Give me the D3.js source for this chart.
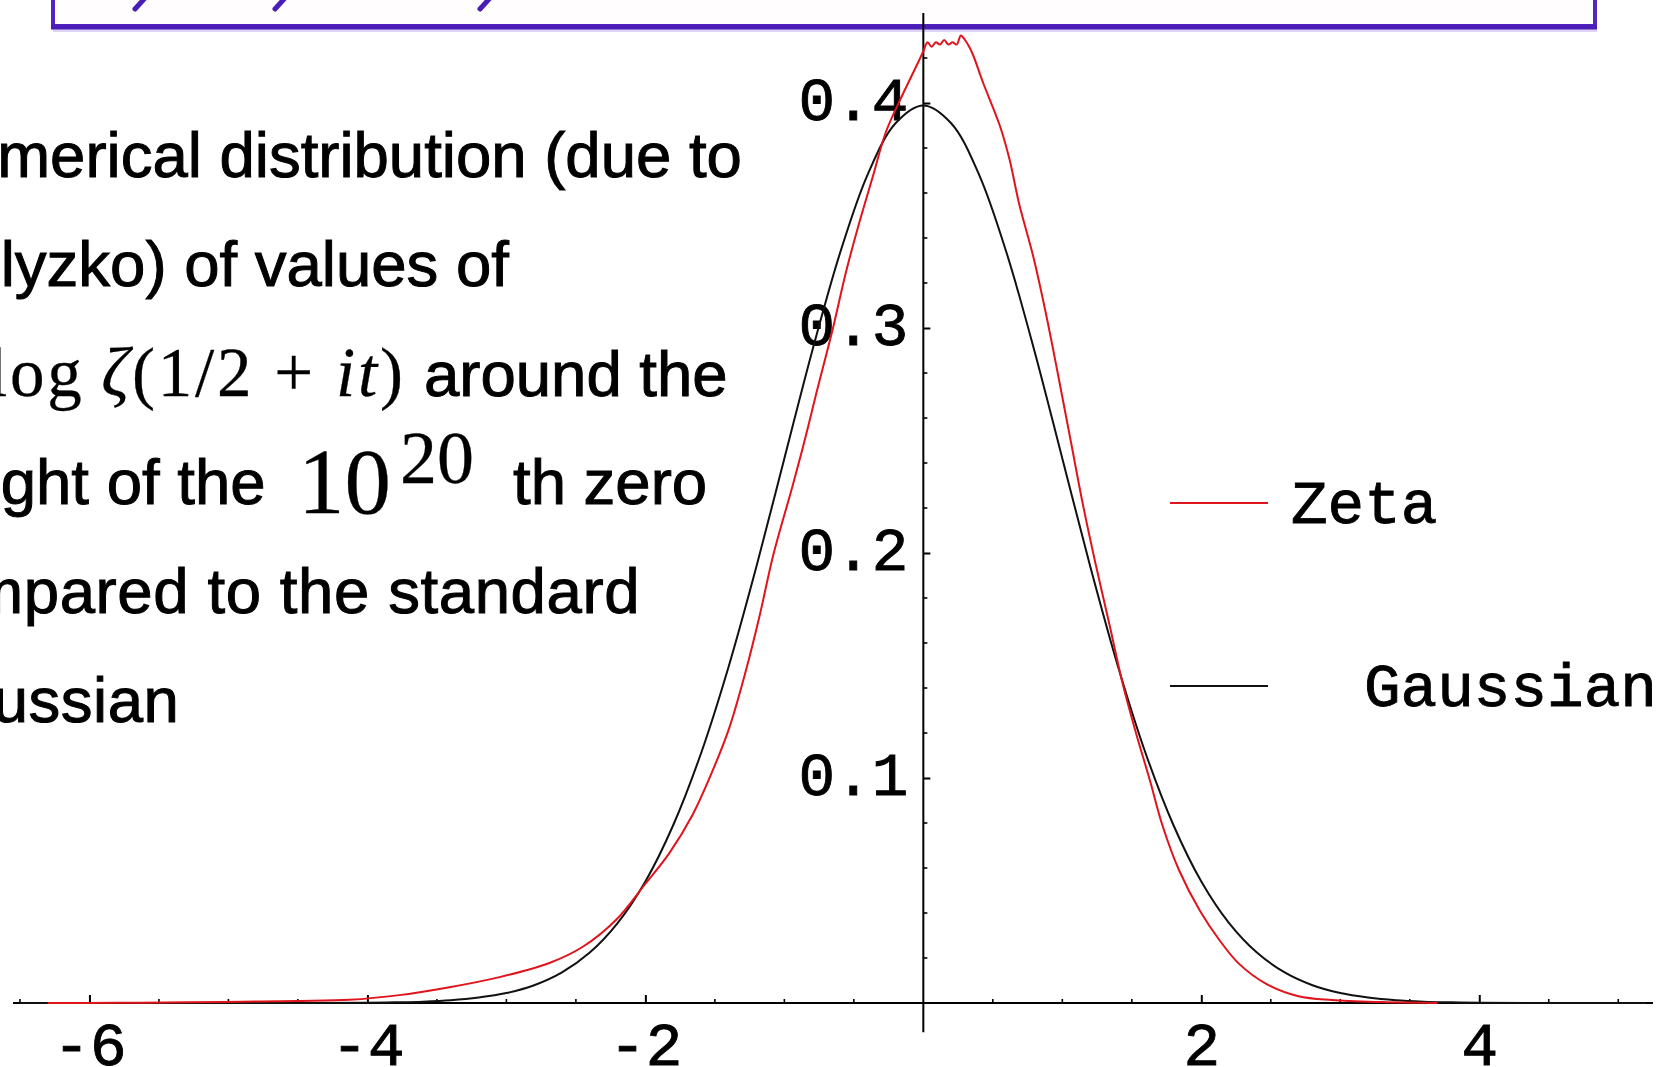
<!DOCTYPE html>
<html>
<head>
<meta charset="utf-8">
<script src="https://cdn.jsdelivr.net/npm/d3@7"></script>
<style>
  html, body { margin: 0; padding: 0; background: #ffffff; overflow: hidden; }
  svg { display: block; }
</style>
</head>
<body>
<svg id="chart" width="1664" height="1067"></svg>
<script>
// Empirical density of normalised log|zeta(1/2+it)| near the 10^20-th zero (Odlyzko)
const zetaX = [-6.30, -5.80, -5.30, -4.90, -4.50, -4.13, -3.77, -3.41, -3.05, -2.69,
  -2.45, -2.21, -2.00, -1.83, -1.66, -1.52, -1.40, -1.28, -1.18, -1.08,
  -0.94, -0.85, -0.77, -0.65, -0.556, -0.46, -0.365, -0.27, -0.17, -0.077,
  -0.03, 0.00, 0.03, 0.06, 0.09, 0.12, 0.15, 0.18, 0.21, 0.24,
  0.27, 0.30, 0.33, 0.36, 0.43, 0.55, 0.62, 0.69, 0.79, 0.88,
  0.97, 1.06, 1.15, 1.24, 1.34, 1.43, 1.53, 1.63, 1.72, 1.84,
  1.99, 2.13, 2.27, 2.47, 2.70, 2.94, 3.30, 3.70];
const zetaY = [0.0000, 0.0001, 0.0003, 0.0006, 0.0009, 0.0014, 0.0035, 0.0070, 0.0115, 0.0178,
  0.0250, 0.0370, 0.0530, 0.0664, 0.0837, 0.1027, 0.1216, 0.1470, 0.1716, 0.1990,
  0.2300, 0.2510, 0.2710, 0.3000, 0.3250, 0.3470, 0.3670, 0.3870, 0.4010, 0.4130,
  0.4190, 0.4230, 0.4270, 0.4250, 0.4270, 0.4260, 0.4280, 0.4260, 0.4270, 0.4260,
  0.4300, 0.4280, 0.4250, 0.4210, 0.4090, 0.3900, 0.3750, 0.3550, 0.3320, 0.3070,
  0.2790, 0.2500, 0.2210, 0.1950, 0.1680, 0.1430, 0.1200, 0.0990, 0.0790, 0.0590,
  0.0410, 0.0280, 0.0175, 0.0084, 0.0030, 0.0013, 0.0004, 0.0000];

// Standard Gaussian density, as plotted
const gaussX = [-6.5, -4.5, -4.0, -3.8, -3.6, -3.4, -3.2, -3.0, -2.8, -2.6, -2.4, -2.2,
  -2.0, -1.8, -1.6, -1.4, -1.2, -1.0, -0.8, -0.6, -0.4, -0.2, 0.0,
  0.2, 0.4, 0.6, 0.8, 1.0, 1.2, 1.4, 1.6, 1.8, 2.0, 2.2, 2.4, 2.6, 2.8,
  3.0, 3.2, 3.4, 3.6, 3.8, 4.0, 4.5, 5.2];
const gaussY = [0.0000, 0.0000, 0.0001, 0.0003, 0.0006, 0.0012, 0.0024, 0.0044, 0.0079, 0.0136, 0.0224, 0.0355,
  0.0540, 0.0790, 0.1109, 0.1497, 0.1942, 0.2420, 0.2897, 0.3332, 0.3683, 0.3910, 0.3989,
  0.3910, 0.3683, 0.3332, 0.2897, 0.2420, 0.1942, 0.1497, 0.1109, 0.0790, 0.0540, 0.0355, 0.0224, 0.0136, 0.0079,
  0.0044, 0.0024, 0.0012, 0.0006, 0.0003, 0.0001, 0.0000, 0.0000];

const xTickLabels = [-6, -4, -2, 2, 4];
const yTickLabels = [0.1, 0.2, 0.3, 0.4];
const seriesNames = ["Zeta", "Gaussian"];
const seriesColors = ["#e0141c", "#111111"];

const svg = d3.select("#chart");

const x = d3.scaleLinear().domain([-6.55, 5.25]).range([13, 1653]);
const y = d3.scaleLinear().domain([0, 0.4]).range([1003, 103]);

// ---- slide header frame (title text runs above the page edge) ----
const hdr = svg.append("g");
hdr.append("line").attr("x1", 53).attr("x2", 1597).attr("y1", 30).attr("y2", 30)
  .attr("stroke", "#c9b8f0").attr("stroke-width", 4).attr("opacity", 0.6);
hdr.append("rect").attr("x", 53).attr("y", -20).attr("width", 1542).attr("height", 46)
  .attr("fill", "#fffdfe").attr("stroke", "#5424c4").attr("stroke-width", 4);
hdr.append("line").attr("x1", 51).attr("x2", 1597).attr("y1", 27).attr("y2", 27)
  .attr("stroke", "#4a1cb8").attr("stroke-width", 5);
const desc = [[145, 135], [285, 275], [490, 480]];
desc.forEach(d => {
  hdr.append("line").attr("x1", d[0]).attr("y1", -2).attr("x2", d[1]).attr("y2", 9)
    .attr("stroke", "#4a1cb8").attr("stroke-width", 5).attr("stroke-linecap", "round");
});

// ---- description text on the left ----
const sans = "'Liberation Sans', Arial, sans-serif";
const serif = "'Liberation Serif', 'Times New Roman', serif";
const txt = svg.append("g").attr("fill", "#000").attr("font-family", sans).attr("font-size", 63.5)
  .attr("stroke", "#000").attr("stroke-width", 1.0);
txt.append("text").attr("x", -84).attr("y", 177).text("Numerical distribution (due to");
txt.append("text").attr("x", -84).attr("y", 286).text("Odlyzko) of values of");
const m1 = txt.append("text").attr("x", -12).attr("y", 396)
  .attr("font-family", serif).attr("font-size", 69).attr("stroke-width", 0.3)
  .attr("textLength", 415).attr("lengthAdjust", "spacing");
m1.append("tspan").text("log\u2009");
m1.append("tspan").attr("font-style", "italic").text("\u03B6");
m1.append("tspan").text("(1/2 + ");
m1.append("tspan").attr("font-style", "italic").text("it");
m1.append("tspan").text(")");
txt.append("text").attr("x", 424).attr("y", 396).text("around the");
txt.append("text").attr("x", -84).attr("y", 504).text("height of the");
txt.append("text").attr("x", 298).attr("y", 513).attr("font-family", serif)
  .attr("font-size", 93).attr("stroke-width", 0.3).text("10");
txt.append("text").attr("x", 400).attr("y", 483).attr("font-family", serif)
  .attr("font-size", 74).attr("stroke-width", 0.3).text("20");
txt.append("text").attr("x", 513).attr("y", 504).text("th zero");
txt.append("text").attr("x", -98).attr("y", 613).attr("letter-spacing", 0.6)
  .text("compared to the standard");
txt.append("text").attr("x", -93).attr("y", 722).attr("letter-spacing", 0.5).text("Gaussian");

// ---- axes ----
const mono = "'Liberation Mono', 'Courier New', monospace";
const axes = svg.append("g");

// minor ticks
const xMinor = d3.range(-6.5, 5.01, 0.5).filter(v => Math.abs(v) > 1e-9 && xTickLabels.indexOf(v) < 0);
axes.selectAll("line.xminor").data(xMinor).join("line").attr("class", "xminor")
  .attr("x1", d => x(d)).attr("x2", d => x(d)).attr("y1", y(0)).attr("y2", y(0) - 4)
  .attr("stroke", "#000").attr("stroke-width", 1.6);
const yMinor = d3.range(0.02, 0.431, 0.02).filter(v => Math.abs(v * 10 - Math.round(v * 10)) > 1e-6);
axes.selectAll("line.yminor").data(yMinor).join("line").attr("class", "yminor")
  .attr("x1", x(0)).attr("x2", x(0) + 4).attr("y1", d => y(d)).attr("y2", d => y(d))
  .attr("stroke", "#000").attr("stroke-width", 1.6);

const xAxis = d3.axisBottom(x).tickValues(xTickLabels).tickSize(-8).tickPadding(19)
  .tickFormat(d => (d < 0 ? "-" : "") + Math.abs(d));
const gx = axes.append("g").attr("transform", `translate(0,${y(0)})`).call(xAxis);
gx.select(".domain").remove();
gx.selectAll(".tick line").attr("stroke", "#000").attr("stroke-width", 2);
gx.selectAll(".tick text").attr("font-family", mono).attr("font-size", 61)
  .attr("fill", "#000").attr("stroke", "#000").attr("stroke-width", 0.9);

const yAxis = d3.axisLeft(y).tickValues(yTickLabels).tickSize(-7).tickPadding(15)
  .tickFormat(d3.format(".1f"));
const gy = axes.append("g").attr("transform", `translate(${x(0)},0)`).call(yAxis);
gy.select(".domain").remove();
gy.selectAll(".tick line").attr("stroke", "#000").attr("stroke-width", 2);
gy.selectAll(".tick text").attr("font-family", mono).attr("font-size", 61).attr("dy", "0.27em")
  .attr("fill", "#000").attr("stroke", "#000").attr("stroke-width", 0.9);

// axis lines
axes.append("line").attr("x1", 13).attr("x2", 1653).attr("y1", y(0)).attr("y2", y(0))
  .attr("stroke", "#000").attr("stroke-width", 2.2);
axes.append("line").attr("x1", x(0)).attr("x2", x(0)).attr("y1", y(0.44)).attr("y2", y(-0.013))
  .attr("stroke", "#000").attr("stroke-width", 2);

// ---- curves ----
const gaussPts = gaussX.map((v, i) => [v, gaussY[i]]);
const zetaPts = zetaX.map((v, i) => [v, zetaY[i]]);
const gaussLine = d3.line().x(d => x(d[0])).y(d => y(d[1])).curve(d3.curveCatmullRom.alpha(0.5));
const zetaLine = d3.line().x(d => x(d[0])).y(d => y(d[1])).curve(d3.curveCatmullRom.alpha(0.5));

svg.append("path").datum(gaussPts).attr("d", gaussLine)
  .attr("fill", "none").attr("stroke", seriesColors[1]).attr("stroke-width", 2);
svg.append("path").datum(zetaPts).attr("d", zetaLine)
  .attr("fill", "none").attr("stroke", seriesColors[0]).attr("stroke-width", 2)
  .attr("stroke-linejoin", "round");

// ---- legend ----
const legend = svg.append("g");
const legendRows = [
  { name: seriesNames[0], color: seriesColors[0], ly: 503, tx: 1291, ty: 523 },
  { name: seriesNames[1], color: seriesColors[1], ly: 686, tx: 1364, ty: 706 }
];
legendRows.forEach(r => {
  legend.append("line").attr("x1", 1170).attr("x2", 1268).attr("y1", r.ly).attr("y2", r.ly)
    .attr("stroke", r.color).attr("stroke-width", 2);
  legend.append("text").attr("x", r.tx).attr("y", r.ty).attr("font-family", mono)
    .attr("font-size", 61).attr("fill", "#000").attr("stroke", "#000").attr("stroke-width", 0.9)
    .text(r.name);
});
</script>
</body>
</html>
